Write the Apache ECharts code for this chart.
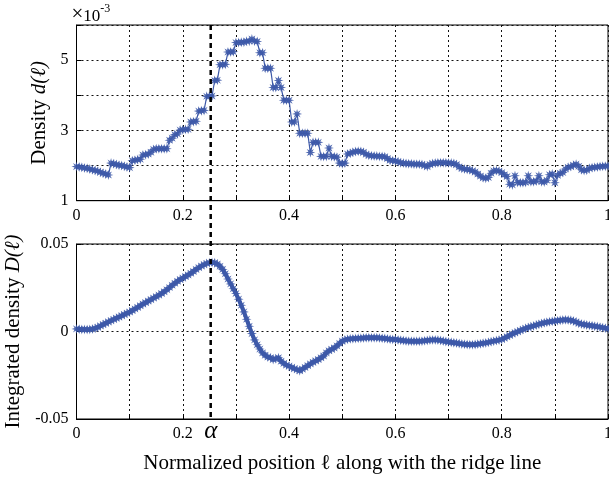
<!DOCTYPE html>
<html>
<head>
<meta charset="utf-8">
<script src="https://cdn.jsdelivr.net/npm/echarts@6/dist/echarts.min.js"></script>
<style>
html,body{margin:0;padding:0;background:#fff;}
#c{width:609px;height:479px;}
</style>
</head>
<body>
<div id="c"></div>
<script>
// ---- data ----
const ALPHA = 0.2525;
const X_TICKS = [0, 0.2, 0.4, 0.6, 0.8, 1];
const Y_TOP_TICKS = [1, 3, 5];
const Y_BOT_TICKS = [-0.05, 0, 0.05];
// sample positions along the ridge line (step 0.005)
const POS = [];
for (let i = 0; i <= 200; i++) POS.push(+(i * 0.005).toFixed(3));
// density d(l), in units of 1e-3
const density = [
1.97,1.96,1.95,1.93,1.92,1.90,1.88,1.86,1.84,1.81,1.78,1.76,1.73,2.07,2.05,2.03,2.01,2.00,1.98,1.96,
1.94,2.14,2.15,2.17,2.18,2.30,2.31,2.33,2.38,2.46,2.48,2.48,2.48,2.48,2.48,2.72,2.78,2.88,2.90,3.01,
3.02,3.03,3.03,3.24,3.25,3.26,3.55,3.56,3.57,3.97,3.97,3.98,4.42,4.43,4.87,4.87,4.88,5.23,5.23,5.24,
5.50,5.50,5.51,5.51,5.54,5.54,5.60,5.54,5.53,5.21,5.21,4.77,4.77,4.77,4.22,4.22,4.42,4.22,3.86,3.86,
3.86,3.24,3.24,3.47,2.92,2.92,2.92,2.92,2.37,2.66,2.66,2.66,2.26,2.26,2.26,2.50,2.26,2.25,2.24,2.07,
2.05,2.07,2.33,2.35,2.38,2.40,2.41,2.40,2.38,2.32,2.29,2.28,2.27,2.27,2.26,2.26,2.25,2.20,2.15,2.14,
2.13,2.11,2.08,2.07,2.06,2.05,2.05,2.04,2.04,2.04,2.03,2.00,1.97,2.03,2.06,2.07,2.08,2.08,2.08,2.08,
2.07,2.07,2.06,2.03,1.96,1.92,1.90,1.89,1.88,1.85,1.82,1.76,1.70,1.65,1.64,1.66,1.78,1.85,1.86,1.84,
1.80,1.74,1.69,1.47,1.45,1.71,1.52,1.51,1.51,1.52,1.71,1.54,1.54,1.56,1.71,1.54,1.53,1.58,1.74,1.76,
1.51,1.72,1.78,1.80,1.90,1.95,1.97,2.01,2.04,1.98,1.88,1.86,1.87,1.92,1.94,1.95,1.96,1.97,1.98,1.98,
1.99
];
// integrated density D(l)
const integrated = [
0.0015,0.0013,0.0012,0.0012,0.0011,0.0012,0.0014,0.0018,0.0024,0.0032,0.0040,0.0047,0.0055,0.0062,0.0069,0.0076,0.0083,0.0090,0.0097,0.0104,
0.0111,0.0120,0.0129,0.0138,0.0147,0.0157,0.0165,0.0174,0.0182,0.0191,0.0199,0.0208,0.0217,0.0227,0.0239,0.0251,0.0264,0.0276,0.0287,0.0297,
0.0305,0.0314,0.0323,0.0333,0.0343,0.0355,0.0365,0.0374,0.0382,0.0389,0.0393,0.0395,0.0393,0.0386,0.0373,0.0355,0.0330,0.0300,0.0272,0.0244,
0.0217,0.0185,0.0150,0.0112,0.0070,0.0030,-0.0012,-0.0048,-0.0076,-0.0100,-0.0122,-0.0136,-0.0146,-0.0150,-0.0160,-0.0155,-0.0150,-0.0170,-0.0182,-0.0192,
-0.0198,-0.0205,-0.0212,-0.0218,-0.0224,-0.0215,-0.0205,-0.0195,-0.0185,-0.0176,-0.0168,-0.0160,-0.0150,-0.0140,-0.0122,-0.0110,-0.0102,-0.0094,-0.0082,-0.0068,
-0.0055,-0.0048,-0.0044,-0.0042,-0.0041,-0.0040,-0.0039,-0.0038,-0.0037,-0.0036,-0.0036,-0.0036,-0.0036,-0.0036,-0.0037,-0.0038,-0.0040,-0.0042,-0.0044,-0.0045,
-0.0046,-0.0048,-0.0050,-0.0052,-0.0054,-0.0055,-0.0056,-0.0056,-0.0056,-0.0056,-0.0055,-0.0053,-0.0051,-0.0049,-0.0048,-0.0048,-0.0049,-0.0051,-0.0054,-0.0057,
-0.0060,-0.0062,-0.0064,-0.0066,-0.0069,-0.0071,-0.0073,-0.0074,-0.0075,-0.0075,-0.0074,-0.0072,-0.0070,-0.0067,-0.0065,-0.0062,-0.0058,-0.0055,-0.0052,-0.0049,
-0.0045,-0.0038,-0.0030,-0.0022,-0.0014,-0.0007,-0.0001,0.0006,0.0012,0.0018,0.0023,0.0028,0.0032,0.0037,0.0042,0.0046,0.0050,0.0053,0.0056,0.0058,
0.0060,0.0062,0.0064,0.0066,0.0067,0.0066,0.0064,0.0060,0.0054,0.0047,0.0043,0.0040,0.0037,0.0035,0.0033,0.0030,0.0028,0.0025,0.0022,0.0019,
0.0016
];

// ---- style ----
const FONT = '"Liberation Serif", "DejaVu Serif", serif';
const BLUE = '#3d59a8';
const TITLE_SIZE = 21;
function starPath() {
  let p = '';
  for (let k = 0; k < 16; k++) {
    const a = k * Math.PI / 8;
    const r = (k % 2) ? 0.42 : 1;
    const x = (50 + 50 * r * Math.cos(a)).toFixed(2);
    const y = (50 + 50 * r * Math.sin(a)).toFixed(2);
    p += (k ? 'L' : 'M') + x + ' ' + y + ' ';
  }
  return 'path://' + p + 'Z';
}
const STAR = starPath();
const near = (v, arr) => arr.some(t => Math.abs(t - v) < 1e-9);
const fmtNum = v => String(+v.toFixed(3));

const xAxisBase = (gi) => ({
  type: 'value', gridIndex: gi, min: 0, max: 1, interval: 0.1,
  axisLine: { show: true, onZero: false, lineStyle: { color: '#000', width: 1 } },
  axisTick: { show: true, inside: true, length: 5, lineStyle: { color: '#000' } },
  axisLabel: {
    color: '#000', fontFamily: FONT, fontSize: 16, margin: 7, hideOverlap: false,
    formatter: v => near(v, X_TICKS) ? fmtNum(v) : ''
  },
  splitLine: { show: true, lineStyle: { color: '#111', type: [2, 3], width: 1 } }
});
const richName = {
  n: { fontFamily: FONT, fontSize: TITLE_SIZE, color: '#000' },
  i: { fontFamily: FONT, fontSize: TITLE_SIZE, fontStyle: 'italic', color: '#000' }
};

const chart = echarts.init(document.getElementById('c'), null, { renderer: 'canvas' });
const gridBase = { left: 76.5, right: 1, show: true, borderColor: '#000', borderWidth: 1,
  backgroundColor: 'transparent', containLabel: false, outerBoundsMode: 'none' };
const option = {
  animation: false,
  backgroundColor: '#fff',
  grid: [
    Object.assign({ top: 25, height: 175.7 }, gridBase),
    Object.assign({ top: 244, height: 175 }, gridBase)
  ],
  xAxis: [
    xAxisBase(0),
    Object.assign(xAxisBase(1), {
      name: 'Normalized position \u2113 along with the ridge line',
      nameLocation: 'middle', nameGap: 34,
      nameTextStyle: { color: '#000', fontFamily: FONT, fontSize: TITLE_SIZE }
    })
  ],
  yAxis: [
    {
      type: 'value', gridIndex: 0, min: 1, max: 6, interval: 1,
      axisLine: { show: true, onZero: false, lineStyle: { color: '#000' } },
      axisTick: { show: true, inside: true, length: 5, lineStyle: { color: '#000' } },
      axisLabel: { color: '#000', fontFamily: FONT, fontSize: 16, margin: 8,
        formatter: v => near(v, Y_TOP_TICKS) ? fmtNum(v) : '' },
      splitLine: { show: true, lineStyle: { color: '#111', type: [2, 3], width: 1 } },
      name: '{n|Density }{i|d(\u2113)}',
      nameLocation: 'middle', nameGap: 25,
      nameTextStyle: { color: '#000', fontFamily: FONT, fontSize: TITLE_SIZE, rich: richName }
    },
    {
      type: 'value', gridIndex: 1, min: -0.05, max: 0.05, interval: 0.05,
      axisLine: { show: true, onZero: false, lineStyle: { color: '#000' } },
      axisTick: { show: true, inside: true, length: 5, lineStyle: { color: '#000' } },
      axisLabel: { color: '#000', fontFamily: FONT, fontSize: 16, margin: 8,
        formatter: v => near(v, Y_BOT_TICKS) ? (Math.abs(v) < 1e-9 ? '0' : fmtNum(v)) : '' },
      splitLine: { show: true, lineStyle: { color: '#111', type: [2, 3], width: 1 } },
      name: '{n|Integrated density }{i|D(\u2113)}',
      nameLocation: 'middle', nameGap: 48,
      nameTextStyle: { color: '#000', fontFamily: FONT, fontSize: TITLE_SIZE, rich: richName }
    }
  ],
  series: [
    {
      type: 'line', xAxisIndex: 0, yAxisIndex: 0,
      data: POS.map((p, i) => [p, density[i]]),
      symbol: STAR, symbolSize: 10, showAllSymbol: true,
      itemStyle: { color: BLUE, opacity: 0.9 },
      lineStyle: { color: BLUE, width: 1.2 },
      z: 3
    },
    {
      type: 'line', xAxisIndex: 1, yAxisIndex: 1,
      data: POS.map((p, i) => [p, integrated[i]]),
      symbol: STAR, symbolSize: 10, showAllSymbol: true,
      itemStyle: { color: BLUE, opacity: 0.9 },
      lineStyle: { color: BLUE, width: 4 },
      z: 3
    }
  ]
};
chart.setOption(option);

function addOverlay() {
  const pTop = chart.convertToPixel({ xAxisIndex: 0, yAxisIndex: 0 }, [ALPHA, 6]);
  const pBot = chart.convertToPixel({ xAxisIndex: 1, yAxisIndex: 1 }, [ALPHA, -0.05]);
  const pCorner = chart.convertToPixel({ xAxisIndex: 0, yAxisIndex: 0 }, [0, 6]);
  chart.setOption({
    graphic: [
      {
        type: 'line', z: 10,
        shape: { x1: pTop[0], y1: pTop[1], x2: pBot[0], y2: pBot[1] },
        style: { stroke: '#000', lineWidth: 2.5, lineDash: [5, 4] }
      },
      {
        type: 'text', z: 10, x: pBot[0], y: pBot[1] + 12,
        style: { text: '\u03B1', font: 'italic 25px ' + FONT, fill: '#000', align: 'center', verticalAlign: 'middle' }
      },
      {
        type: 'text', z: 10, x: pCorner[0] - 5, y: pCorner[1] - 22,
        style: {
          text: '{a|\u00D7}{b|10}{c|-3}',
          rich: {
            a: { font: '21px ' + FONT, fill: '#000', verticalAlign: 'bottom' },
            b: { font: '17px ' + FONT, fill: '#000', verticalAlign: 'bottom' },
            c: { font: '12px ' + FONT, fill: '#000', verticalAlign: 'top', padding: [0, 0, 10, 0] }
          }
        }
      }
    ]
  });
}
addOverlay();
</script>
</body>
</html>
